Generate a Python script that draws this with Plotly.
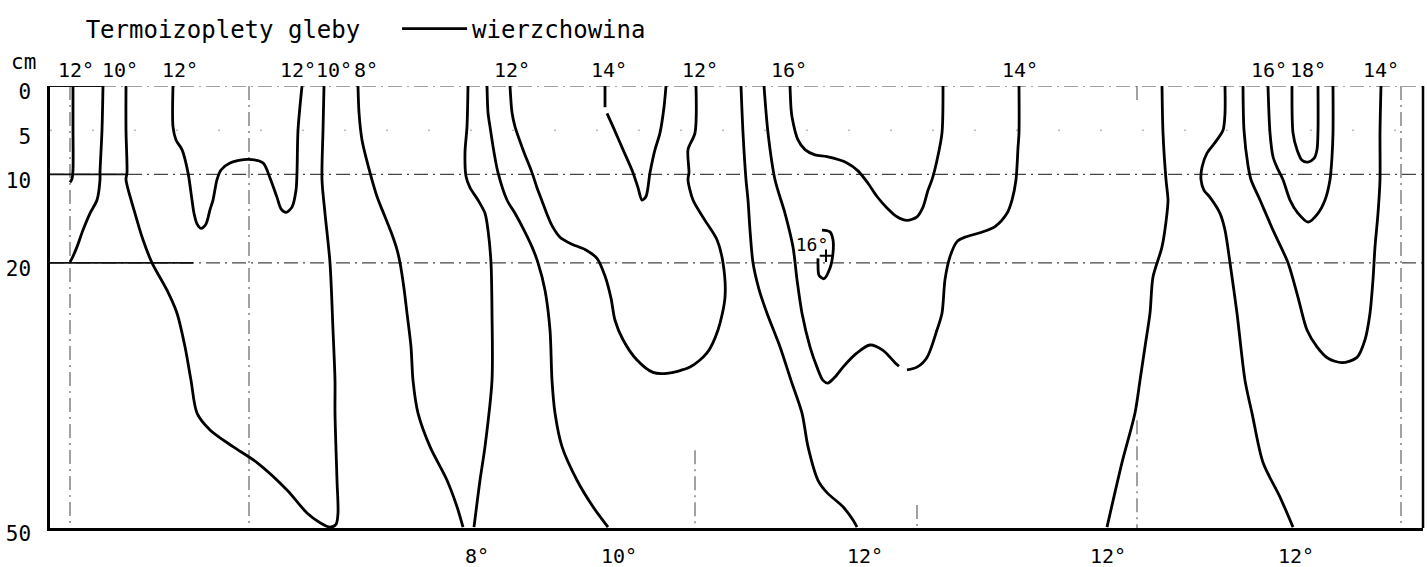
import plotly.graph_objects as go

# ---- data: soil thermo-isopleths (x = relative time units, depth in cm) ----
depth_ticks = [0, 5, 10, 20, 50]

iso_a_t = [73, 73, 73, 72, 70]
iso_a_d = [0, 4.6, 9.5, 10.5, 10.9]

iso_b_t = [103, 102, 100, 100, 97, 90, 83, 77, 72, 70]
iso_b_d = [0, 5, 9.8, 10.6, 12.9, 14.4, 16.3, 18.2, 19.5, 19.9]

iso_c_t = [126, 126, 127, 126, 135, 143, 152, 167, 177, 185, 191, 197, 210, 233, 257, 287, 307, 320, 330,
           336, 338, 337, 335, 335, 333, 330, 325, 322, 323, 324]
iso_c_d = [0, 5, 9.8, 10.6, 14.4, 17.4, 20, 23.1, 25.7, 29.5, 33.3, 37, 38.9, 40.8, 42.6, 45.7, 48.3, 49.4, 49.9,
           49.6, 48.3, 44.6, 37, 33.3, 27.6, 20, 14.4, 10.6, 5, 0]

iso_d_t = [173, 173, 176, 182, 188, 192, 194, 197, 201, 206, 210, 213, 217, 221, 230, 248, 263, 270, 277, 281,
           286, 292, 296, 297, 298, 302]
iso_d_d = [0, 4.6, 6.1, 7.2, 9.8, 12.9, 14.4, 15.6, 16.1, 15.6, 14.0, 12.9, 10.6, 9.5, 8.7, 8.3, 8.7, 10.4, 12.6,
           13.9, 14.3, 13.7, 11.8, 9.8, 5, 0]

iso_e_t = [358, 359, 362, 370, 377, 385, 392, 397, 400, 404, 407, 411, 413, 418, 430, 447, 457, 463]
iso_e_d = [0, 3, 6.1, 9.8, 12.5, 14.8, 16.8, 18.5, 20, 22.9, 25.7, 29.5, 33.3, 37, 40.8, 44.6, 47.6, 49.9]

iso_f_t = [468, 467, 465, 466, 470, 478, 485, 488, 491, 492, 492, 485, 480, 474]
iso_f_d = [0, 4.6, 7.5, 10.2, 11.5, 12.9, 14.4, 16.3, 20, 25.7, 33.3, 40.8, 44.6, 49.9]

iso_g_t = [487, 488, 490, 494, 498, 507, 515, 524, 532, 538, 545, 550, 552, 555, 562, 577, 593, 608]
iso_g_d = [0, 3, 4.6, 7.5, 9.8, 12.9, 14.4, 16.3, 18.2, 20, 23.1, 27.6, 33.3, 37, 40.8, 44.6, 47.6, 49.9]

iso_h_t = [510, 512, 515, 523, 532, 537, 542, 547, 552, 560, 572, 585, 597, 605, 611, 615, 623, 637, 653, 667,
           690, 707, 718, 725, 723, 717, 705, 693, 688, 689, 688, 695, 696]
iso_h_d = [0, 3, 4.6, 7.2, 9.8, 11.5, 13.0, 14.5, 15.8, 17.1, 17.9, 18.5, 19.5, 21.5, 24.0, 26.5, 28.7, 31.0,
           32.4, 32.5, 31.8, 30.2, 27.6, 23.9, 20, 17.4, 15.2, 12.9, 10.6, 9.8, 7.2, 5.3, 0]

iso_i_t = [605, 605, None, 607, 613, 623, 633, 638, 642, 646, 650, 655, 660, 664, 666]
iso_i_d = [0, 2.4, None, 3.1, 4.6, 7.2, 9.8, 11.5, 12.9, 12.5, 9.8, 7.2, 5.3, 2.4, 0]

iso_j_t = [741, 743, 746, 748, 750, 753, 759, 767, 780, 791, 802, 808, 818, 827, 843, 853, 857]
iso_j_d = [0, 5.3, 10.6, 12.9, 16.3, 20, 23, 25.7, 29.5, 33.3, 37, 40.8, 44.6, 46, 47.6, 49.1, 49.9]

iso_k_t = [764, 768, 775, 785, 793, 797, 802, 810, 817, 823, 828, 836, 843, 857, 870, 883, 895, 899, None,
           907, 917, 927, 937, 942, 945, 950, 957, 965, 980, 995, 1007, 1012, 1016, 1018, 1019, 1019]
iso_k_d = [0, 5.3, 10.6, 14.4, 18.2, 21.9, 25.7, 29.5, 31.8, 33.3, 33.6, 32.8, 31.8, 30.2, 29.3, 29.9, 31.3, 31.7,
           None, 32.1, 31.8, 30.7, 27.6, 25.7, 21.9, 19.3, 17.6, 17.1, 16.6, 15.9, 14.4, 12.9, 10.6, 7, 5.3, 0]

iso_l_t = [790, 791, 792, 798, 805, 815, 827, 847, 858, 868, 877, 887, 897, 907, 917, 923, 928, 932, 937, 942, 943]
iso_l_d = [0, 2.5, 3.5, 6.1, 7.2, 7.8, 8.0, 8.7, 9.6, 11.0, 12.5, 13.8, 14.8, 15.2, 14.8, 13.7, 11.8, 10.6, 8.4,
           5.3, 0]

iso_loop_t = [822, 830, 833, 833, 830, 824, 819, 818, 818]
iso_loop_d = [16.3, 16.5, 17.4, 18.9, 20.6, 21.8, 21.4, 20.2, 19.5]

iso_m_t = [1162, 1163, 1166, 1168, 1167, 1162, 1153, 1150, 1145, 1140, 1135, 1122, 1107]
iso_m_d = [0, 5.3, 10.6, 12.9, 14.4, 18.2, 21.6, 25.7, 29.5, 33.3, 37, 42.6, 49.9]

iso_n_t = [1225, 1225, 1223, 1215, 1207, 1202, 1201, 1204, 1210, 1220, 1225, 1230, 1237, 1245, 1252, 1263, 1280, 1293]
iso_n_d = [0, 3.1, 5, 6.4, 7.6, 9.2, 10.6, 11.8, 12.6, 14.4, 16.3, 20, 25.7, 33.3, 37, 42.6, 46.5, 49.9]

iso_o_t = [1243, 1244, 1248, 1251, 1260, 1273, 1288, 1298, 1307, 1317, 1328, 1342, 1357, 1365, 1370, 1373, 1375,
           1378, 1380, 1380, 1381]
iso_o_d = [0, 5, 9, 10.6, 12.9, 16.3, 20, 23.9, 27.6, 29.5, 30.8, 31.3, 30.7, 28.7, 25.7, 21.9, 18.2, 14.4, 10.6,
           5.3, 0]

iso_p_t = [1268, 1270, 1273, 1277, 1283, 1290, 1298, 1308, 1318, 1325, 1330, 1332, 1333, 1333]
iso_p_d = [0, 5.3, 8, 9.2, 10.6, 12.9, 14.4, 15.4, 14.4, 12.9, 10.6, 8, 5.3, 0]

iso_q_t = [1292, 1293, 1297, 1302, 1308, 1314, 1317, 1318, 1318]
iso_q_d = [0, 5.3, 7.2, 8.4, 8.6, 8.2, 7.2, 5, 0]

# isotherm labels (temperature text and its time position)
top_label_t = [76, 120, 180, 298, 334, 366, 512, 609, 700, 789, 1020, 1269, 1308, 1381]
top_label_txt = ["12°", "10°", "12°", "12°", "10°", "8°", "12°", "14°", "12°", "16°", "14°", "16°", "18°", "14°"]
bottom_label_t = [477, 619, 865, 1108, 1296]
bottom_label_txt = ["8°", "10°", "12°", "12°", "12°"]
inner_label_t = [812]
inner_label_d = [18.1]
inner_label_txt = ["16°"]
marker_t = [826]
marker_d = [19.2]

# grid / reference lines (time positions and depths)
vgrid_full_t = [70, 249, 1401]
vgrid_part_t = [695, 917, 1137, 1137]
vgrid_part_from = [41.2, 47.4, 37.8, 0]
vgrid_part_to = [50, 50, 50, 2]
hgrid_dashdot_d = [0, 10, 20]
hgrid_dot_d = [5]
solid_seg_d = [0, 10, 20]
solid_seg_t0 = [50, 50, 50]
solid_seg_t1 = [103, 127, 193]

T_MIN, T_MAX = 50, 1423
FONT = "DejaVu Sans Mono"
LINE_W = 2.8

lines = [
    (iso_a_t, iso_a_d), (iso_b_t, iso_b_d), (iso_c_t, iso_c_d), (iso_d_t, iso_d_d),
    (iso_e_t, iso_e_d), (iso_f_t, iso_f_d), (iso_g_t, iso_g_d), (iso_h_t, iso_h_d),
    (iso_i_t, iso_i_d), (iso_j_t, iso_j_d), (iso_k_t, iso_k_d), (iso_l_t, iso_l_d),
    (iso_loop_t, iso_loop_d), (iso_m_t, iso_m_d), (iso_n_t, iso_n_d), (iso_o_t, iso_o_d),
    (iso_p_t, iso_p_d), (iso_q_t, iso_q_d),
]

fig = go.Figure()

DASHDOT = "14px,5px,2px,5px"

for t in vgrid_full_t:
    fig.add_trace(go.Scatter(x=[t, t], y=[0, 50], mode="lines", hoverinfo="skip", showlegend=False,
                             line=dict(color="#555", width=1.1, dash=DASHDOT)))
for t, a, b in zip(vgrid_part_t, vgrid_part_from, vgrid_part_to):
    fig.add_trace(go.Scatter(x=[t, t], y=[a, b], mode="lines", hoverinfo="skip", showlegend=False,
                             line=dict(color="#555", width=1.1, dash=DASHDOT)))
for d in hgrid_dashdot_d:
    fig.add_trace(go.Scatter(x=[T_MIN, T_MAX], y=[d, d], mode="lines", hoverinfo="skip", showlegend=False,
                             line=dict(color="#444", width=1.2, dash=DASHDOT)))
for d in hgrid_dot_d:
    fig.add_trace(go.Scatter(x=[T_MIN, T_MAX], y=[d, d], mode="lines", hoverinfo="skip", showlegend=False,
                             line=dict(color="#999", width=1, dash="2px,40px")))
for d, a, b in zip(solid_seg_d, solid_seg_t0, solid_seg_t1):
    fig.add_trace(go.Scatter(x=[a, b], y=[d, d], mode="lines", hoverinfo="skip", showlegend=False,
                             line=dict(color="#111", width=1.8)))

for i, (t, d) in enumerate(lines):
    fig.add_trace(go.Scatter(
        x=t, y=d, mode="lines", name="wierzchowina", legendgroup="w",
        showlegend=(i == 0), connectgaps=False,
        line=dict(color="black", width=LINE_W, shape="spline", smoothing=0.8),
        hoverinfo="skip"))

fig.add_trace(go.Scatter(x=marker_t, y=marker_d, mode="markers", showlegend=False, hoverinfo="skip",
                         marker=dict(symbol="cross-thin", size=9, line=dict(color="black", width=2))))
fig.add_trace(go.Scatter(x=inner_label_t, y=inner_label_d, mode="text", text=inner_label_txt,
                         showlegend=False, hoverinfo="skip",
                         textfont=dict(family=FONT, size=18, color="black")))

annotations = []
for t, txt in zip(top_label_t, top_label_txt):
    annotations.append(dict(x=t, y=1.036, xref="x", yref="paper", text=txt, showarrow=False,
                            xanchor="center", yanchor="middle", font=dict(family=FONT, size=20, color="black")))
for t, txt in zip(bottom_label_t, bottom_label_txt):
    annotations.append(dict(x=t, y=-0.063, xref="x", yref="paper", text=txt, showarrow=False,
                            xanchor="center", yanchor="middle", font=dict(family=FONT, size=20, color="black")))
annotations.append(dict(x=-0.019, y=1.055, xref="paper", yref="paper", text="cm", showarrow=False,
                        xanchor="center", yanchor="middle", font=dict(family=FONT, size=21, color="black")))

fig.update_layout(
    width=1427, height=567,
    margin=dict(l=50, r=4, t=86, b=39),
    paper_bgcolor="white", plot_bgcolor="white",
    font=dict(family=FONT, color="black"),
    annotations=annotations,
    shapes=[dict(type="line", xref="paper", yref="paper", x0=1, x1=1, y0=0, y1=1,
                 line=dict(color="black", width=2.5))],
    legend=dict(orientation="h", x=0.0245, xanchor="left", y=1.18, yanchor="top",
                bgcolor="rgba(0,0,0,0)", font=dict(family=FONT, size=24, color="black"),
                title=dict(text="Termoizoplety gleby\u00a0\u00a0", side="left",
                           font=dict(family=FONT, size=24)),
                itemwidth=65),
    xaxis=dict(range=[T_MIN, T_MAX], showticklabels=False, ticks="", showgrid=False, zeroline=False,
               showline=True, linecolor="black", linewidth=2.5, fixedrange=True),
    yaxis=dict(range=[50, 0], tickvals=depth_ticks, ticktext=[str(v) for v in depth_ticks],
               ticks="", showgrid=False, zeroline=False, showline=True, linecolor="black",
               linewidth=2.5, ticklabelstandoff=12, ticklabelshift=-6,
               tickfont=dict(family=FONT, size=21, color="black"),
               fixedrange=True),
)

fig.write_html("out.html")
